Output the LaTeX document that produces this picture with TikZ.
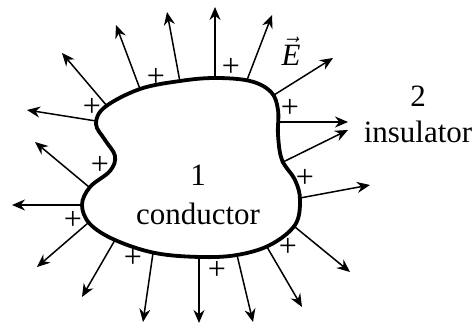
\documentclass[tikz,border=0pt]{standalone}
\usepackage{fontspec}
\setmainfont{Liberation Serif}
\usetikzlibrary{arrows.meta}

\begin{document}
\begin{tikzpicture}[x=0.5pt,y=-0.5pt,
  fld/.style={-{Stealth[length=6.5pt,width=5.5pt]},line width=0.75pt},
  chg/.style={font=\fontsize{16}{16}\selectfont,inner sep=0pt},
  lbl/.style={font=\fontsize{15.5}{17}\selectfont,inner sep=0pt,align=center}]
  \useasboundingbox (0,0) rectangle (475,324);
  % conductor outline
  \draw[line width=1.9pt] plot[smooth cycle,tension=0.6] coordinates {
    (215,78) (250,81) (271,92) (278,110) (278,135) (282,160) (295,180)
    (300,200) (295,225) (270,245) (237,255) (200,257) (155,253) (115,240)
    (90,224) (82,205) (90,187) (110,171) (115,156) (105,140) (96,124)
    (105,107) (140,89) (180,81)};
  % field lines: start on surface / tip
  \foreach \sx/\sy/\tx/\ty [count=\i] in {96/121/27/110, 107/106/62/53, 140/89/116/25,
      180/82/167/12, 215/78/215/7, 89/187/35/142, 247/80/272/15, 274/95/333/58,
      278/122/348/122, 281/163/348/130, 82/205/12/205, 88/223/37/267,
      115/240/82/297, 153/253/143/322, 199/257/199/323, 237/255/253/322,
      267/247/302/307, 295/227/350/272, 300/198/370/185} {
    \coordinate (s\i) at (\sx,\sy);
    \coordinate (t\i) at (\tx,\ty);
    \draw[fld] (s\i) -- (t\i);
  }
  % surface charges
  \foreach \px/\py [count=\i] in {92/107, 156/77, 231/67, 100/165, 290/108,
      73/220, 133/258, 217/270, 305/178, 288/247}
    \node[chg] (p\i) at (\px,\py) {+};
  \node[lbl] (one) at (198,175) {1};
  \node[lbl] (cond) at (198,214) {conductor};
  \node[lbl] (two) at (418,96) {2};
  \node[lbl] (ins) at (418,132) {insulator};
  \node[lbl] (efield) at (291,51) {$\vec{\textit{E}}$};
\end{tikzpicture}
\end{document}
